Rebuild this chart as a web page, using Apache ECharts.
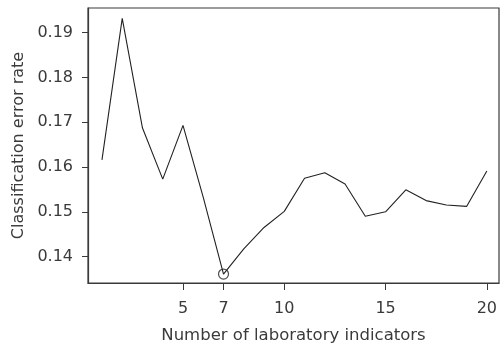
<!DOCTYPE html>
<html>
<head>
<meta charset="utf-8">
<script src="https://cdn.jsdelivr.net/npm/echarts@6/dist/echarts.min.js"></script>
<style>
html, body { margin: 0; padding: 0; background: #fff; }
#chart { width: 500px; height: 346px; }
</style>
</head>
<body>
<div id="chart"></div>
<script>
// number of indicators kept in the model
var counts = [1, 2, 3, 4, 5, 6, 7, 8, 9, 10, 11, 12, 13, 14, 15, 16, 17, 18, 19, 20];
// classification error rate
var errorRates = [0.1616, 0.1932, 0.1687, 0.1573, 0.1693, 0.1532, 0.1361, 0.1417, 0.1465, 0.1501,
                  0.1575, 0.1587, 0.1562, 0.1490, 0.1500, 0.1549, 0.1525, 0.1515, 0.1512, 0.1591];
var xTicks = [5, 7, 10, 15, 20];
var yTicks = [0.14, 0.15, 0.16, 0.17, 0.18, 0.19];

var points = [];
var best = 0;
for (var i = 0; i < counts.length; i++) {
    points.push([counts[i], errorRates[i]]);
    if (errorRates[i] < errorRates[best]) best = i;
}

var ink = '#3a3a3a';
var font = 'DejaVu Sans, sans-serif';

var chart = echarts.init(document.getElementById('chart'));
chart.setOption({
    animation: false,
    grid: {
        left: 88, right: 1, top: 8, bottom: 63,
        outerBoundsMode: 'none',
        show: true, borderColor: ink, borderWidth: 1.2, backgroundColor: 'transparent'
    },
    xAxis: {
        type: 'value',
        min: 0.31, max: 20.6,
        name: 'Number of laboratory indicators',
        nameLocation: 'middle',
        nameGap: 44,
        nameTextStyle: { color: ink, fontSize: 16.5, fontFamily: font },
        axisLine: { show: true, lineStyle: { color: ink, width: 1.2 } },
        axisTick: { show: true, length: 7, customValues: xTicks, lineStyle: { color: ink } },
        axisLabel: {
            customValues: xTicks, margin: 18,
            color: ink, fontSize: 16, fontFamily: font
        },
        splitLine: { show: false }
    },
    yAxis: {
        type: 'value',
        min: 0.1341, max: 0.1955,
        name: 'Classification error rate',
        nameLocation: 'middle',
        nameGap: 61,
        nameTextStyle: { color: ink, fontSize: 16, fontFamily: font },
        axisLine: { show: true, lineStyle: { color: ink, width: 1.2 } },
        axisTick: { show: true, length: 6, customValues: yTicks, lineStyle: { color: ink } },
        axisLabel: {
            customValues: yTicks, margin: 15,
            color: ink, fontSize: 16, fontFamily: font,
            formatter: function (v) { return v.toFixed(2); }
        },
        splitLine: { show: false }
    },
    series: [
        {
            type: 'line',
            data: points,
            showSymbol: false,
            lineStyle: { color: '#222', width: 1.1 },
            silent: true
        },
        {
            type: 'scatter',
            data: [points[best]],
            symbol: 'circle',
            symbolSize: 10,
            itemStyle: { color: 'transparent', borderColor: '#222', borderWidth: 1.2 },
            silent: true
        }
    ]
});
</script>
</body>
</html>
